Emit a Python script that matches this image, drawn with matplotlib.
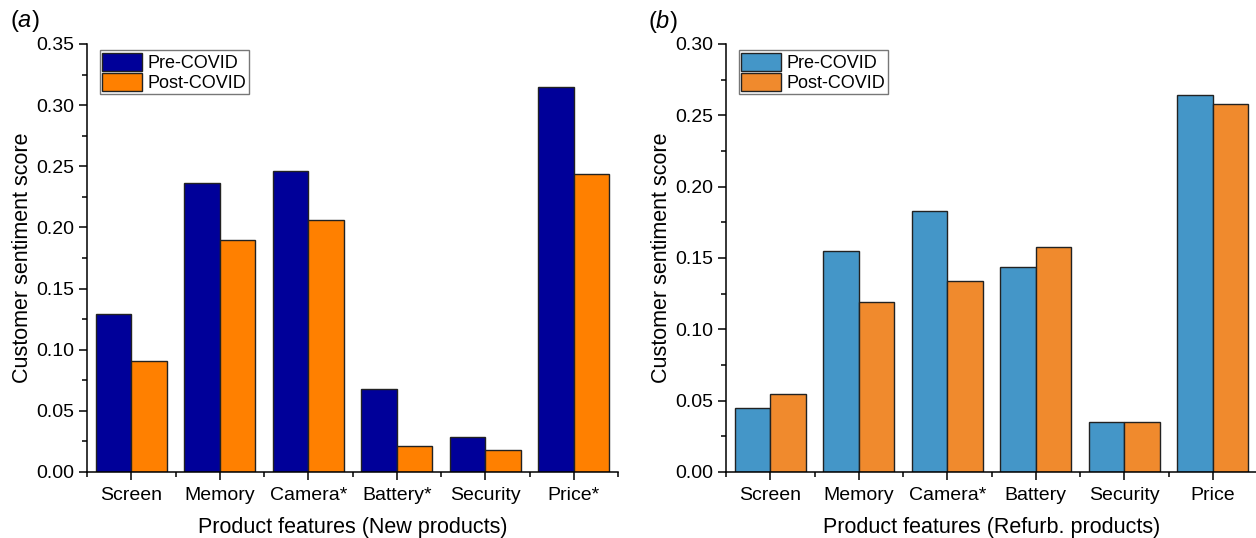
import numpy as np
import matplotlib
matplotlib.use('Agg')
import matplotlib.pyplot as plt
from matplotlib.ticker import MultipleLocator

plt.rcParams['font.family'] = ['Liberation Sans', 'DejaVu Sans']
plt.rcParams['mathtext.fontset'] = 'custom'
plt.rcParams['mathtext.it'] = 'Liberation Sans:italic'
plt.rcParams['mathtext.rm'] = 'Liberation Sans'

# data
features_new = ['Screen', 'Memory', 'Camera*', 'Battery*', 'Security', 'Price*']
pre_new      = [0.129, 0.236, 0.246, 0.068, 0.029, 0.315]
post_new     = [0.091, 0.190, 0.206, 0.021, 0.018, 0.244]

features_ref = ['Screen', 'Memory', 'Camera*', 'Battery', 'Security', 'Price']
pre_ref      = [0.045, 0.155, 0.183, 0.144, 0.035, 0.264]
post_ref     = [0.055, 0.119, 0.134, 0.158, 0.035, 0.258]

W, H = 1256, 538
fig = plt.figure(figsize=(W / 100, H / 100), dpi=100)

ax_a = fig.add_axes([87 / W, 66 / H, 531 / W, 428 / H])
ax_b = fig.add_axes([726 / W, 66 / H, 531 / W, 428 / H])

panels = [
    (ax_a, features_new, pre_new, post_new, ('#000099', '#FF8000'), 0.35,
     'Product features (New products)', 'a', 10),
    (ax_b, features_ref, pre_ref, post_ref, ('#4496C8', '#F08A2D'), 0.30,
     'Product features (Refurb. products)', 'b', 648),
]

for ax, feats, pre, post, cols, ymax, xlab, tag, tagx in panels:
    x = np.arange(len(feats))
    w = 0.4
    ax.bar(x - w / 2, pre, w, color=cols[0], edgecolor='#222222', linewidth=1.0, label='Pre-COVID')
    ax.bar(x + w / 2, post, w, color=cols[1], edgecolor='#222222', linewidth=1.0, label='Post-COVID')

    ax.set_xlim(-0.5, len(feats) - 0.5)
    ax.set_ylim(0, ymax)
    ax.set_xticks(x)
    ax.set_xticklabels(feats)
    ax.xaxis.set_minor_locator(MultipleLocator(1.0, offset=0.5))
    ax.yaxis.set_major_locator(MultipleLocator(0.05))
    ax.yaxis.set_minor_locator(MultipleLocator(0.025))
    ax.yaxis.set_major_formatter(matplotlib.ticker.FormatStrFormatter('%.2f'))

    for s in ['top', 'right']:
        ax.spines[s].set_visible(False)
    for s in ['left', 'bottom']:
        ax.spines[s].set_linewidth(1.1)
    ax.tick_params(which='both', direction='out', width=1.1, labelsize=14)
    ax.tick_params(which='major', length=6)
    ax.tick_params(which='minor', length=3.5)
    ax.tick_params(axis='x', pad=5)

    ax.set_xlabel(xlab, fontsize=15.5, labelpad=9)
    ax.set_ylabel('Customer sentiment score', fontsize=15.5, labelpad=2)

    leg = ax.legend(loc='upper left', bbox_to_anchor=(0.024, 0.986), fontsize=13,
                    fancybox=False, framealpha=1, edgecolor='#777777',
                    handlelength=2.2, handleheight=1.15, labelspacing=0.05,
                    handletextpad=0.3, borderpad=0.15, borderaxespad=0.0)
    leg.get_frame().set_linewidth(1.0)

    fig.text(tagx / W, 1 - 8 / H, r'($\mathit{' + tag + '}$)', fontsize=17, va='top', ha='left')

fig.savefig('out.png', dpi=100)
